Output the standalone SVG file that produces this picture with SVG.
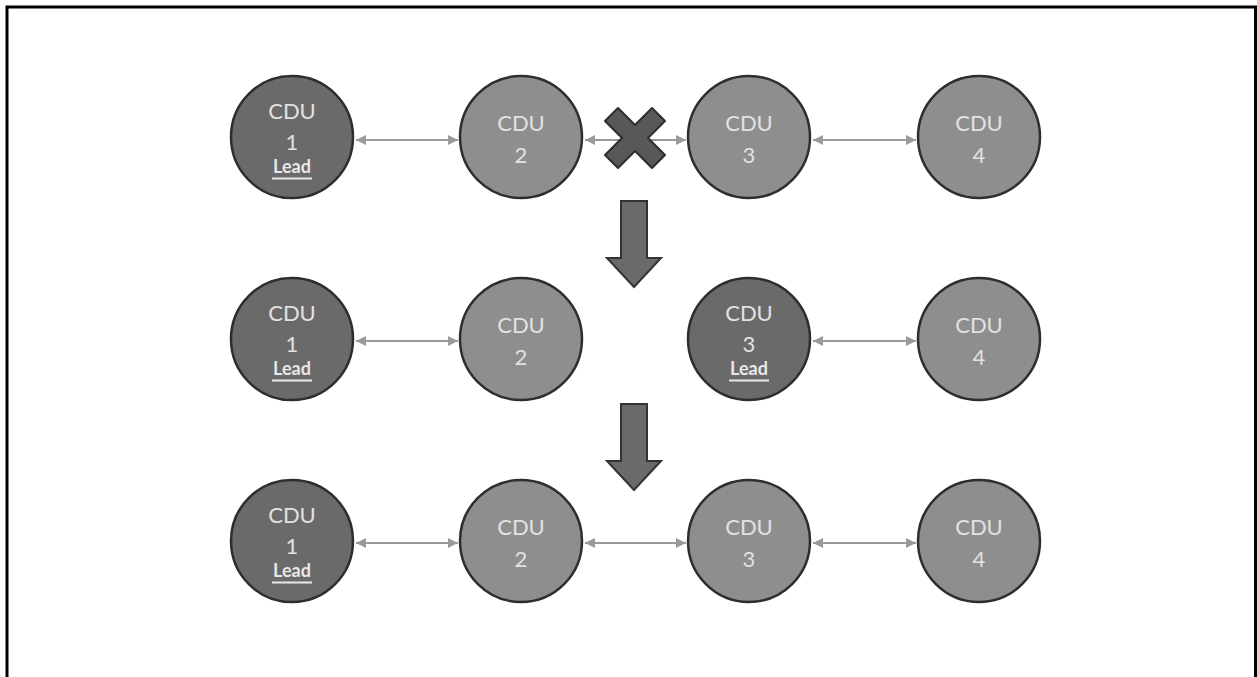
<svg xmlns="http://www.w3.org/2000/svg" width="1257" height="677" viewBox="0 0 1257 677">
<style>
.dark{fill:#6a6a6a;stroke:#2e2e2e;stroke-width:2.5}
.light{fill:#8e8e8e;stroke:#2e2e2e;stroke-width:2.5}
.t{font-family:Lato,"Open Sans","Liberation Sans",sans-serif;font-size:22px;fill:#e2e2e2;text-anchor:middle}
.lead{font-family:Lato,"Open Sans","Liberation Sans",sans-serif;font-size:18px;font-weight:bold;fill:#e8e8e8;text-anchor:middle}
.ul{stroke:#e8e8e8;stroke-width:2}
.conn{stroke:#9a9a9a;stroke-width:2;fill:none;marker-start:url(#ah);marker-end:url(#ah)}
.down{fill:#6a6a6a;stroke:#333;stroke-width:2}
</style>
<defs>
<marker id="ah" viewBox="0 0 10 10" refX="10" refY="5" markerWidth="6" markerHeight="5" orient="auto-start-reverse" markerUnits="strokeWidth">
<path d="M0,0 L10,5 L0,10 z" fill="#9a9a9a"/>
</marker>
</defs>
<rect x="0" y="0" width="1257" height="677" fill="#fff"/>
<path d="M7,690 V7 H1255.5 V690" fill="none" stroke="#000" stroke-width="3"/>

<g id="connectors">
<line class="conn" x1="356" y1="140" x2="458" y2="140"/>
<line class="conn" x1="585" y1="140" x2="686" y2="140"/>
<line class="conn" x1="813" y1="140" x2="916" y2="140"/>
<line class="conn" x1="356" y1="341" x2="458" y2="341"/>
<line class="conn" x1="813" y1="341" x2="916" y2="341"/>
<line class="conn" x1="356" y1="543" x2="458" y2="543"/>
<line class="conn" x1="585" y1="543" x2="686" y2="543"/>
<line class="conn" x1="813" y1="543" x2="916" y2="543"/>
</g>

<g id="fail-x">
<path d="M605,121 L618,108 L635,125 L652,108 L665,121 L648,138 L665,155 L652,168 L635,151 L618,168 L605,155 L622,138 z" fill="#585858" stroke="#2e2e2e" stroke-width="2" stroke-linejoin="round"/>
</g>

<g id="arrow-down-1"><path class="down" d="M621,201 H647 V258 H661 L634,287 L607,258 H621 z"/></g>
<g id="arrow-down-2"><path class="down" d="M621,404 H647 V461 H661 L634,490 L607,461 H621 z"/></g>

<g id="r1-cdu1"><circle class="dark" cx="292" cy="137" r="61"/><text class="t" x="292" y="119">CDU</text><text class="t" x="292" y="150">1</text><text class="lead" x="292" y="173">Lead</text><line class="ul" x1="272" y1="178.5" x2="312" y2="178.5"/></g>
<g id="r1-cdu2"><circle class="light" cx="521" cy="137" r="61"/><text class="t" x="521" y="131">CDU</text><text class="t" x="521" y="163">2</text></g>
<g id="r1-cdu3"><circle class="light" cx="749" cy="137" r="61"/><text class="t" x="749" y="131">CDU</text><text class="t" x="749" y="163">3</text></g>
<g id="r1-cdu4"><circle class="light" cx="979" cy="137" r="61"/><text class="t" x="979" y="131">CDU</text><text class="t" x="979" y="163">4</text></g>

<g id="r2-cdu1"><circle class="dark" cx="292" cy="339" r="61"/><text class="t" x="292" y="321">CDU</text><text class="t" x="292" y="352">1</text><text class="lead" x="292" y="375">Lead</text><line class="ul" x1="272" y1="380.5" x2="312" y2="380.5"/></g>
<g id="r2-cdu2"><circle class="light" cx="521" cy="339" r="61"/><text class="t" x="521" y="333">CDU</text><text class="t" x="521" y="365">2</text></g>
<g id="r2-cdu3"><circle class="dark" cx="749" cy="339" r="61"/><text class="t" x="749" y="321">CDU</text><text class="t" x="749" y="352">3</text><text class="lead" x="749" y="375">Lead</text><line class="ul" x1="729" y1="380.5" x2="769" y2="380.5"/></g>
<g id="r2-cdu4"><circle class="light" cx="979" cy="339" r="61"/><text class="t" x="979" y="333">CDU</text><text class="t" x="979" y="365">4</text></g>

<g id="r3-cdu1"><circle class="dark" cx="292" cy="541" r="61"/><text class="t" x="292" y="523">CDU</text><text class="t" x="292" y="554">1</text><text class="lead" x="292" y="577">Lead</text><line class="ul" x1="272" y1="582.5" x2="312" y2="582.5"/></g>
<g id="r3-cdu2"><circle class="light" cx="521" cy="541" r="61"/><text class="t" x="521" y="535">CDU</text><text class="t" x="521" y="567">2</text></g>
<g id="r3-cdu3"><circle class="light" cx="749" cy="541" r="61"/><text class="t" x="749" y="535">CDU</text><text class="t" x="749" y="567">3</text></g>
<g id="r3-cdu4"><circle class="light" cx="979" cy="541" r="61"/><text class="t" x="979" y="535">CDU</text><text class="t" x="979" y="567">4</text></g>
</svg>
